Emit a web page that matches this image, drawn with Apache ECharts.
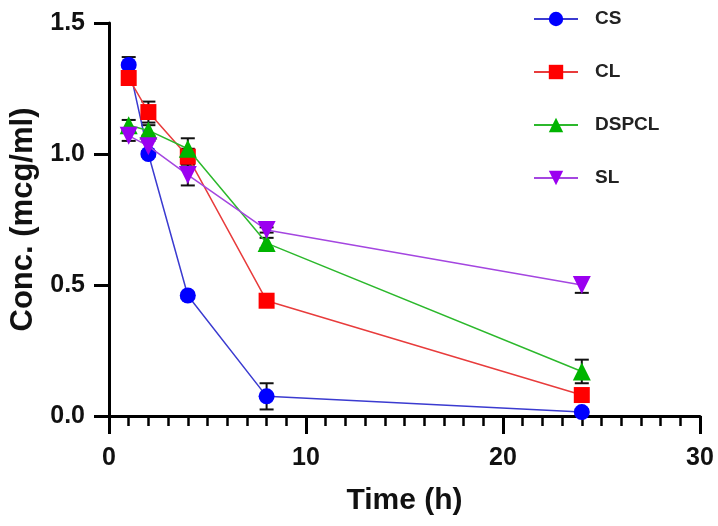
<!DOCTYPE html>
<html>
<head>
<meta charset="utf-8">
<script src="https://cdn.jsdelivr.net/npm/echarts@6/dist/echarts.min.js"></script>
<style>
html,body{margin:0;padding:0;background:#fff;}
#chart{width:718px;height:526px;}
</style>
</head>
<body>
<div id="chart"></div>
<script>
// Data
const time = [1, 2, 4, 8, 24];
const seriesNames = ['CS', 'CL', 'DSPCL', 'SL'];
const csVals = [1.34, 1.00, 0.46, 0.075, 0.015];
const clVals = [1.29, 1.16, 0.99, 0.44, 0.08];
const dspclVals = [1.11, 1.09, 1.02, 0.66, 0.17];
const slVals = [1.07, 1.03, 0.92, 0.71, 0.50];
const csSd = [0.03, 0.01, 0.01, 0.05, 0.01];
const clSd = [0.02, 0.04, 0.03, 0.01, 0.02];
const dspclSd = [0.02, 0.02, 0.04, 0.02, 0.045];
const slSd = [0.02, 0.02, 0.04, 0.01, 0.03];
const yTicks = ['0.0', '0.5', '1.0', '1.5'];
const xTicks = ['0', '10', '20', '30'];

const FONT = 'Liberation Sans, Arial, sans-serif';

const styles = [
  {marker: '#0000ff', line: '#3b3bd0', symbol: 'circle', size: 16},
  {marker: '#ff0000', line: '#e83c3c', symbol: 'rect', size: 16},
  {marker: '#00b400', line: '#2cb82c', symbol: 'triangle', size: 18},
  {marker: '#9b00f0', line: '#a446e0', symbol: 'path://M0,0 L10,0 L5,9 Z', size: 18}
];
const valsList = [csVals, clVals, dspclVals, slVals];
const sdList = [csSd, clSd, dspclSd, slSd];

function errRender(params, api) {
  const x = api.value(0), y = api.value(1), e = api.value(2);
  const top = api.coord([x, y + e]);
  const bot = api.coord([x, y - e]);
  const w = 7;
  const st = {stroke: '#111', lineWidth: 2};
  return {
    type: 'group',
    children: [
      {type: 'line', shape: {x1: top[0], y1: top[1], x2: bot[0], y2: bot[1]}, style: st},
      {type: 'line', shape: {x1: top[0] - w, y1: top[1], x2: top[0] + w, y2: top[1]}, style: st},
      {type: 'line', shape: {x1: bot[0] - w, y1: bot[1], x2: bot[0] + w, y2: bot[1]}, style: st}
    ]
  };
}

const series = [];
valsList.forEach((vals, k) => {
  series.push({
    name: seriesNames[k] + '_err',
    type: 'custom',
    renderItem: errRender,
    encode: {x: 0, y: 1},
    data: time.map((t, i) => [t, vals[i], sdList[k][i]]),
    z: 1,
    silent: true
  });
});
valsList.forEach((vals, k) => {
  const s = styles[k];
  series.push({
    name: seriesNames[k],
    type: 'line',
    data: time.map((t, i) => [t, vals[i]]),
    symbol: s.symbol,
    symbolSize: s.size,
    showAllSymbol: true,
    lineStyle: {color: s.line, width: 1.5},
    itemStyle: {color: s.marker},
    z: 2 + k,
    animation: false
  });
});

const chart = echarts.init(document.getElementById('chart'), null, {renderer: 'canvas'});
chart.setOption({
  animation: false,
  backgroundColor: '#fff',
  grid: {left: 107, right: 18, top: 23, bottom: 110, containLabel: false},
  legend: {
    data: seriesNames,
    orient: 'vertical',
    left: 528,
    top: 3,
    itemWidth: 44,
    itemHeight: 18,
    itemGap: 31,
    textStyle: {fontFamily: FONT, fontWeight: 'bold', fontSize: 19, color: '#222', lineHeight: 22, padding: [0, 0, 0, 12]}
  },
  xAxis: {
    type: 'value',
    min: 0, max: 30, interval: 10,
    name: 'Time (h)',
    nameLocation: 'middle',
    nameGap: 70,
    nameTextStyle: {fontFamily: FONT, fontWeight: 'bold', fontSize: 30, color: '#111'},
    axisLine: {show: true, onZero: false, lineStyle: {color: '#000', width: 3}},
    axisTick: {show: true, length: 18, lineStyle: {color: '#000', width: 3}},
    minorTick: {show: true, splitNumber: 10, length: 10, lineStyle: {color: '#000', width: 2.5}},
    splitLine: {show: false},
    axisLabel: {
      fontFamily: FONT, fontWeight: 'bold', fontSize: 25, color: '#111', margin: 30,
      formatter: v => xTicks[Math.round(v / 10)]
    }
  },
  yAxis: {
    type: 'value',
    min: 0, max: 1.5, interval: 0.5,
    name: 'Conc. (mcg/ml)',
    nameLocation: 'middle',
    nameRotate: 90,
    nameGap: 70,
    nameTextStyle: {fontFamily: FONT, fontWeight: 'bold', fontSize: 31, color: '#111'},
    axisLine: {show: true, onZero: false, lineStyle: {color: '#000', width: 3}},
    axisTick: {show: true, length: 15, lineStyle: {color: '#000', width: 3}},
    splitLine: {show: false},
    axisLabel: {
      fontFamily: FONT, fontWeight: 'bold', fontSize: 25, color: '#111', margin: 24,
      formatter: v => yTicks[Math.round(v / 0.5)]
    }
  },
  series: series
});
</script>
</body>
</html>
